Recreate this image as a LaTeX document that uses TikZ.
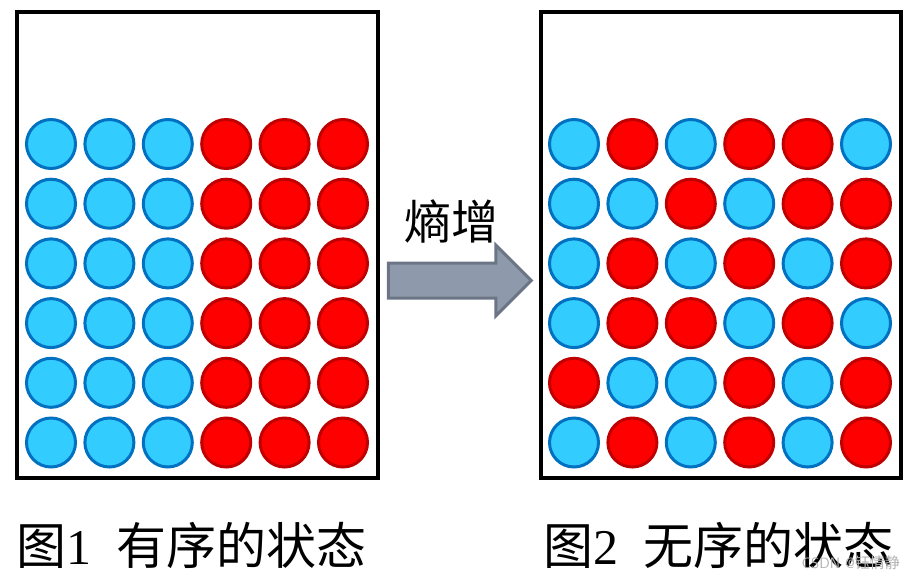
\documentclass[tikz,border=0pt]{standalone}
\usepackage{fontspec}
\setmainfont{Liberation Serif}
\newfontfamily\cjk{Noto Sans CJK SC}
\usetikzlibrary{positioning,shapes.arrows}
\definecolor{ballblue}{HTML}{33CCFF}
\definecolor{rimblue}{HTML}{0070C0}
\definecolor{ballred}{HTML}{FF0000}
\definecolor{rimred}{HTML}{C00000}
\definecolor{arrowfill}{HTML}{8E9AAB}
\definecolor{arrowrim}{HTML}{6B7585}
\tikzset{
  ball/.style={circle,line width=3pt,minimum size=49pt,inner sep=0pt},
  B/.style={ball,draw=rimblue,fill=ballblue},
  R/.style={ball,draw=rimred,fill=ballred},
  jar/.style={draw=black,line width=4pt},
  caption/.style={font=\cjk\fontsize{50}{56}\selectfont,inner sep=0pt}
}
\begin{document}
\begin{tikzpicture}[x=1pt,y=-1pt]
   \useasboundingbox (0,0) rectangle (915,579);
   % the two jars
   \draw[jar] (17,11.5) rectangle (378,477.5);
   \draw[jar] (541,11.5) rectangle (901,477.5);
   % ordered state
   \foreach \r in {1,...,6}
     \foreach \c in {1,...,6} {
       \ifnum\c<4 \def\sty{B}\else \def\sty{R}\fi
       \node[\sty] (l\r\c) at ({51+58.4*(\c-1)},{144+59.7*(\r-1)}) {};
     }
   % disordered state
   \foreach \row [count=\r] in {{B,R,B,R,R,B},{B,B,R,B,R,R},{B,R,B,R,B,R},
                                {B,R,R,B,R,B},{R,B,B,R,B,R},{B,R,B,R,B,R}}
     \foreach \sty [count=\c] in \row
       \node[\sty] (r\r\c) at ({574+58.4*(\c-1)},{144+59.7*(\r-1)}) {};
   % entropy arrow
   \node[single arrow,draw=arrowrim,fill=arrowfill,line width=3pt,
         minimum height=143pt,inner xsep=0pt,inner ysep=16pt,
         single arrow head extend=18pt,single arrow tip angle=90] (grow) at (451,280.5) {};
   \node[caption,font=\cjk\fontsize{47}{52}\selectfont] (entropy) at (451,221) {熵增};
   % captions
   \node[caption,anchor=west] (cap1) at (16,545) {图{\rmfamily 1}\hspace{0.5em}有序的状态};
   \node[caption,anchor=west] (cap2) at (543,545) {图{\rmfamily 2}\hspace{0.5em}无序的状态};
   \node[font=\sffamily\fontsize{15}{15}\selectfont,text=black!30,anchor=east,inner sep=0pt]
     (mark) at (900,563) {CSDN @{\cjk 钰情静}};
\end{tikzpicture}
\end{document}
